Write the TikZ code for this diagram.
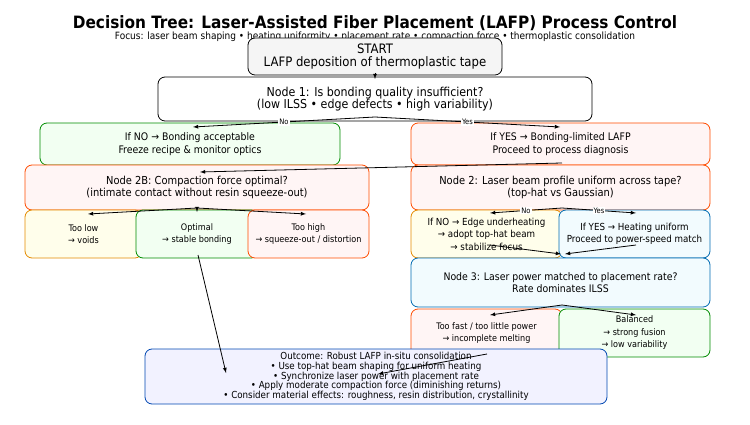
\documentclass[tikz,border=0pt]{standalone}
\usepackage{fontspec}
\setmainfont{DejaVu Sans Condensed}
\begin{document}
\begin{tikzpicture}[x=1pt,y=-1pt,
 bx/.style={draw,rounded corners=7pt,line width=0.8pt,align=center,inner sep=0pt},
 gr/.style={draw=green!55!black,fill=green!5},
 rd/.style={draw=orange!60!red,fill=red!4},
 og/.style={draw=orange!80!yellow!90!black,fill=yellow!8},
 bl/.style={draw=blue!40!cyan!70!black,fill=cyan!5},
 ar/.style={-latex,line width=0.8pt},
 lb/.style={fill=white,inner sep=1pt,font=\fontsize{7.5}{8}\selectfont}]
\useasboundingbox (0,0) rectangle (750,425);
\def\B#1#2#3#4#5#6#7{\draw[bx,#6] (#2,#3) rectangle (#4,#5); \node[align=center,font=\fontsize{10.4}{12.5}\selectfont] (#1) at ({(#2+#4)/2},{(#3+#5)/2}) {#7};}
\node[font=\bfseries\fontsize{17}{19}\selectfont] (title) at (375,23) {Decision Tree: Laser-Assisted Fiber Placement (LAFP) Process Control};
\node[font=\fontsize{10}{11}\selectfont] (sub) at (375,37) {Focus: laser beam shaping • heating uniformity • placement rate • compaction force • thermoplastic consolidation};
\B{s}{248}{38}{502}{75}{fill=gray!8}{\fontsize{13}{16}\selectfont START\\\fontsize{13}{16}\selectfont LAFP deposition of thermoplastic tape}
\B{n1}{158}{77}{592}{121}{fill=white}{\fontsize{12.3}{16}\selectfont Node 1: Is bonding quality insufficient?\\\fontsize{12.3}{16}\selectfont (low ILSS • edge defects • high variability)}
\B{no}{40}{123}{340}{165}{gr}{If NO → Bonding acceptable\\Freeze recipe \& monitor optics}
\B{yes}{411}{123}{710}{165}{rd}{If YES → Bonding-limited LAFP\\Proceed to process diagnosis}
\B{n2b}{25}{165}{369}{210}{rd}{\fontsize{11}{14.5}\selectfont Node 2B: Compaction force optimal?\\\fontsize{11}{14.5}\selectfont (intimate contact without resin squeeze-out)}
\B{n2}{411}{165}{710}{210}{rd}{\fontsize{11}{14.5}\selectfont Node 2: Laser beam profile uniform across tape?\\\fontsize{11}{14.5}\selectfont (top-hat vs Gaussian)}
\B{low}{25}{210}{142}{258}{og}{\fontsize{9}{11.5}\selectfont Too low\\\fontsize{9}{11.5}\selectfont → voids}
\B{opt}{136}{210}{258}{258}{gr}{\fontsize{9}{11.5}\selectfont Optimal\\\fontsize{9}{11.5}\selectfont → stable bonding}
\B{high}{248}{210}{369}{258}{rd}{\fontsize{9}{11.5}\selectfont Too high\\\fontsize{9}{11.5}\selectfont → squeeze-out / distortion}
\B{eno}{411}{210}{562}{258}{og}{\fontsize{9.7}{12}\selectfont If NO → Edge underheating\\\fontsize{9.7}{12}\selectfont → adopt top-hat beam\\\fontsize{9.7}{12}\selectfont → stabilize focus}
\B{eyes}{559}{210}{710}{258}{bl}{\fontsize{9.7}{12}\selectfont If YES → Heating uniform\\\fontsize{9.7}{12}\selectfont Proceed to power-speed match}
\B{n3}{411}{258}{710}{307}{bl}{Node 3: Laser power matched to placement rate?\\Rate dominates ILSS}
\B{fast}{411}{309}{562}{357}{rd}{\fontsize{9}{11.5}\selectfont Too fast / too little power\\\fontsize{9}{11.5}\selectfont → incomplete melting}
\B{bal}{559}{309}{710}{357}{gr}{\fontsize{9}{11.5}\selectfont Balanced\\\fontsize{9}{11.5}\selectfont → strong fusion\\\fontsize{9}{11.5}\selectfont → low variability}
\B{out}{145}{349}{607}{404}{draw=blue!60!cyan!70!black,fill=blue!5}{\fontsize{9.7}{9.8}\selectfont Outcome: Robust LAFP in-situ consolidation\\[-2.7pt]\fontsize{9.7}{9.8}\selectfont • Use top-hat beam shaping for uniform heating\\[-2.7pt]\fontsize{9.7}{9.8}\selectfont • Synchronize laser power with placement rate\\[-2.7pt]\fontsize{9.7}{9.8}\selectfont • Apply moderate compaction force (diminishing returns)\\[-2.7pt]\fontsize{9.7}{9.8}\selectfont • Consider material effects: roughness, resin distribution, crystallinity}
\coordinate (a1) at (375,117); \coordinate (a2) at (562,163); \coordinate (a3) at (197,208);
\coordinate (a4) at (562,208); \coordinate (a5) at (562,305); \coordinate (a6) at (198,255);
\coordinate (a7) at (490,245); \coordinate (a8) at (636,245); \coordinate (a9) at (487,354);
\draw[ar] (s.south |- 0,73) -- (375,79);
\draw[ar] (a1) -- node[lb]{No} (193,127);
\draw[ar] (a1) -- node[lb]{Yes} (560,127);
\draw[ar] (a2) -- (200,172);
\draw[ar] (a3) -- (88,214); \draw[ar] (a3) -- (197,212); \draw[ar] (a3) -- (306,214);
\draw[ar] (a4) -- node[lb]{No} (490,213);
\draw[ar] (a4) -- node[lb]{Yes} (636,213);
\draw[ar] (a7) -- (561,254); \draw[ar] (a8) -- (565,254);
\draw[ar] (a5) -- (490,315); \draw[ar] (a5) -- (636,315);
\draw[ar] (a6) -- (226,373);
\draw[ar] (a9) -- (378,374);
\end{tikzpicture}
\end{document}
